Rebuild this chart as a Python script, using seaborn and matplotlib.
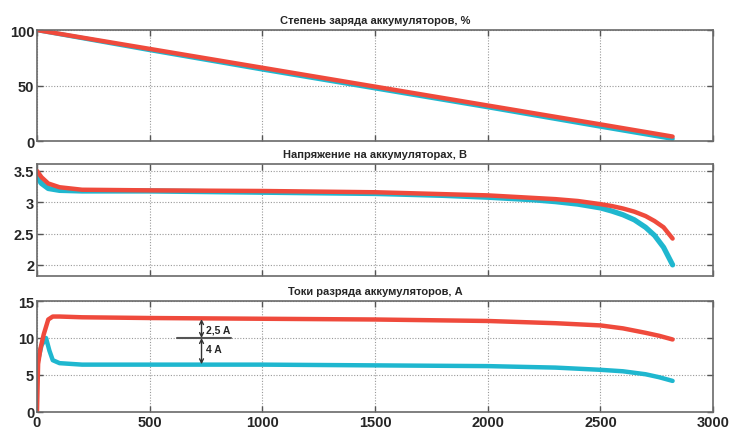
import pandas as pd
import matplotlib
matplotlib.use('Agg')
import matplotlib.pyplot as plt
import seaborn as sns

# Данные (время, с)
t_soc = [0, 500, 1000, 1500, 2000, 2500, 2820]
soc_red = [100, 83, 66, 49, 32, 15, 4]
soc_cyan = [100, 82, 64.5, 47.5, 30.5, 13, 2]

t_u = [0, 20, 50, 100, 200, 500, 1000, 1500, 1800, 2000, 2200, 2300, 2400, 2500,
       2550, 2600, 2650, 2700, 2740, 2780, 2820]
u_red = [3.50, 3.40, 3.30, 3.24, 3.20, 3.19, 3.18, 3.16, 3.13, 3.11, 3.07, 3.05, 3.02, 2.97,
         2.94, 2.90, 2.85, 2.78, 2.70, 2.60, 2.42]
u_cyan = [3.40, 3.30, 3.22, 3.19, 3.18, 3.18, 3.16, 3.14, 3.11, 3.08, 3.04, 3.01, 2.97, 2.91,
          2.86, 2.80, 2.72, 2.60, 2.47, 2.28, 2.00]

t_i_red = [0, 5, 15, 30, 50, 70, 100, 200, 500, 1000, 1500, 2000, 2300, 2500, 2600, 2700, 2760, 2820]
i_red = [0, 6.5, 8.5, 10.5, 12.5, 12.9, 12.9, 12.8, 12.7, 12.6, 12.5, 12.3, 12.0, 11.7, 11.3, 10.7, 10.3, 9.8]
t_i_cyan = [5, 20, 40, 55, 70, 100, 200, 500, 1000, 1500, 2000, 2300, 2500, 2600, 2700, 2760, 2820]
i_cyan = [7.0, 9.0, 10.0, 8.3, 7.0, 6.6, 6.4, 6.4, 6.4, 6.3, 6.2, 6.0, 5.7, 5.5, 5.1, 4.7, 4.2]

titles = ['Степень заряда аккумуляторов, %',
          'Напряжение на аккумуляторах, В',
          'Токи разряда аккумуляторов, А']

red = '#ef4a3c'
cyan = '#1fb7cf'

sns.set_style('white')
plt.rcParams['font.family'] = ['Liberation Sans', 'DejaVu Sans']

fig = plt.figure(figsize=(7.31, 4.31), dpi=100)
left, width = 0.0506, 0.925
ax1 = fig.add_axes([left, 0.6705, width, 0.2575])
ax2 = fig.add_axes([left, 0.357, width, 0.260])
ax3 = fig.add_axes([left, 0.0418, width, 0.2575])

df_soc = pd.DataFrame({'t': t_soc, 'red': soc_red, 'cyan': soc_cyan})
df_u = pd.DataFrame({'t': t_u, 'red': u_red, 'cyan': u_cyan})
df_ir = pd.DataFrame({'t': t_i_red, 'i': i_red})
df_ic = pd.DataFrame({'t': t_i_cyan, 'i': i_cyan})

sns.lineplot(data=df_soc, x='t', y='cyan', ax=ax1, color=cyan, lw=3.2)
sns.lineplot(data=df_soc, x='t', y='red', ax=ax1, color=red, lw=3.2)
sns.lineplot(data=df_u, x='t', y='cyan', ax=ax2, color=cyan, lw=3.8)
sns.lineplot(data=df_u, x='t', y='red', ax=ax2, color=red, lw=3.2)
sns.lineplot(data=df_ic, x='t', y='i', ax=ax3, color=cyan, lw=3.2)
sns.lineplot(data=df_ir, x='t', y='i', ax=ax3, color=red, lw=3.2)

ax1.set_ylim(0, 100)
ax1.set_yticks([0, 50, 100])
ax2.set_ylim(1.82, 3.61)
ax2.set_yticks([2, 2.5, 3, 3.5])
ax2.set_yticklabels(['2', '2.5', '3', '3.5'])
ax3.set_ylim(0, 15)
ax3.set_yticks([0, 5, 10, 15])

for ax, title in zip([ax1, ax2, ax3], titles):
    ax.set_xlim(0, 3000)
    ax.set_xticks(range(0, 3001, 500))
    ax.set_xlabel('')
    ax.set_ylabel('')
    ax.grid(True, linestyle=(0, (1, 1.5)), color='#999999', linewidth=0.8)
    ax.set_axisbelow(True)
    for s in ax.spines.values():
        s.set_color('#6a6a6a')
        s.set_linewidth(1.2)
    ax.tick_params(direction='in', length=4, width=1, color='#555555',
                   labelsize=10.5, pad=2, top=True, right=True, bottom=True, left=True)
    for lbl in ax.get_yticklabels():
        lbl.set_fontweight('bold')
    ax.set_title(title, fontsize=8, fontweight='bold', pad=5)

ax1.tick_params(labelbottom=False)
ax2.tick_params(labelbottom=False)
for lbl in ax3.get_xticklabels():
    lbl.set_fontweight('bold')

# Аннотация разницы токов
ax3.plot([620, 862], [10, 10], color='#555555', lw=1.5)
ax3.annotate('', xy=(730, 12.55), xytext=(730, 10),
             arrowprops=dict(arrowstyle='<->', color='#333333', lw=1, shrinkA=0, shrinkB=0,
                             mutation_scale=7))
ax3.annotate('', xy=(730, 6.45), xytext=(730, 10),
             arrowprops=dict(arrowstyle='<->', color='#333333', lw=1, shrinkA=0, shrinkB=0,
                             mutation_scale=7))
ax3.text(752, 11.1, '2,5 A', fontsize=7.5, fontweight='bold', va='center')
ax3.text(752, 8.5, '4 A', fontsize=7.5, fontweight='bold', va='center')

fig.savefig('out.png', dpi=100)
